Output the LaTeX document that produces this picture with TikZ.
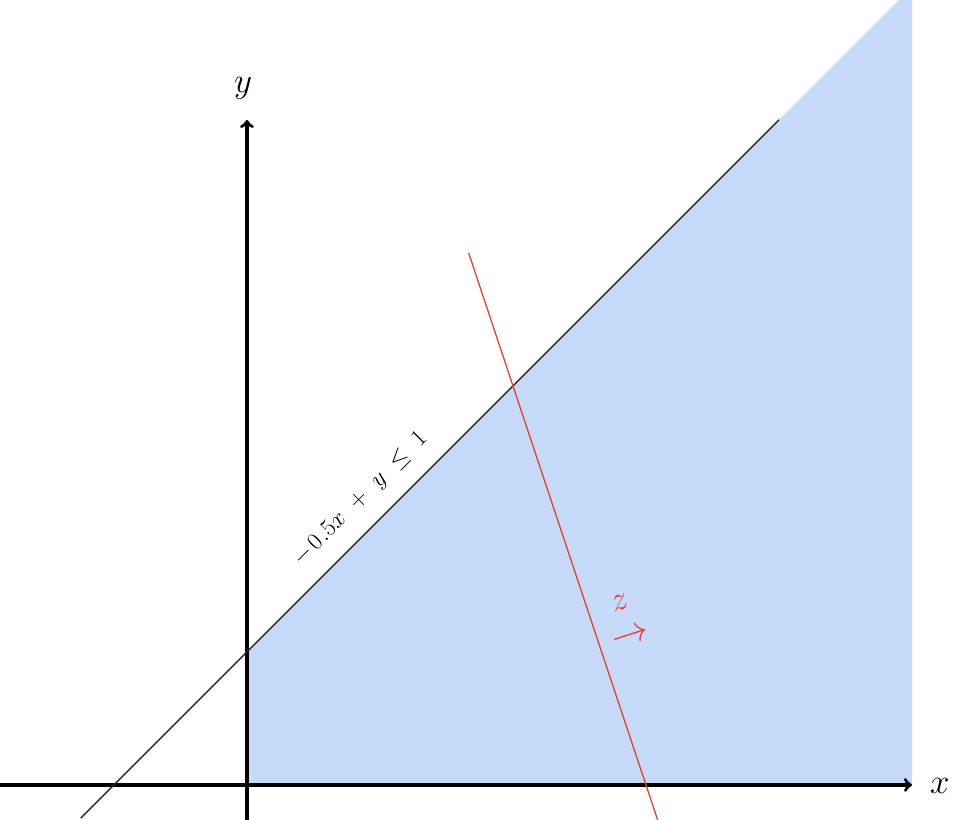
\documentclass[tikz,border=0pt]{standalone}
\usepackage{amsmath}
\definecolor{regionblue}{RGB}{199,218,249}
\definecolor{objred}{RGB}{234,64,64}
\definecolor{lineblack}{RGB}{40,40,40}
\begin{document}
\begin{tikzpicture}[x=1.6625cm,y=3.325cm,
  axis/.style={line width=2.4pt,->},
  constraint/.style={line width=1pt,draw=lineblack},
  objline/.style={line width=1pt,draw=objred},
  axlabel/.style={font=\fontsize{30}{36}\selectfont,inner sep=0pt},
  conlabel/.style={font=\fontsize{18}{21}\selectfont,inner sep=0pt,rotate=45},
  objlabel/.style={font=\fontsize{30}{25}\selectfont,text=objred,align=center,inner sep=0pt,rotate=18}]
\useasboundingbox (-3.714,-0.263) rectangle (10.782,5.902);
\clip (-3.714,-0.263) rectangle (10.782,5.902);
\fill[regionblue] (0,0) -- (0,1) -- (10,6) -- (10,0) -- cycle;
\coordinate (xs) at (-3.8,0);
\coordinate (xe) at (10,0);
\coordinate (ys) at (0,-0.3);
\coordinate (ye) at (0,5);
\draw[axis] (xs) -- (xe);
\draw[axis] (ys) -- (ye);
\node[axlabel] (xl) at (10.42,-0.01) {$x$};
\node[axlabel] (yl) at (-0.06,5.24) {$y$};
\coordinate (la) at (-2.5,-0.25);
\coordinate (lb) at (8,5);
\draw[constraint] (la) -- (lb);
\node[conlabel] (cl) at (1.71,2.148) {\medmuskip=10mu\thickmuskip=10mu$-\mkern2mu0\mkern1mu.5x + y \leq 1$};
\coordinate (ra) at (3.3333,4);
\coordinate (rb) at (6.5,-0.75);
\draw[objline] (ra) -- (rb);
\node[objlabel] (zl) at (5.69,1.245) {$z$\\\resizebox{26.5pt}{!}{$\to$}};
\end{tikzpicture}
\end{document}
